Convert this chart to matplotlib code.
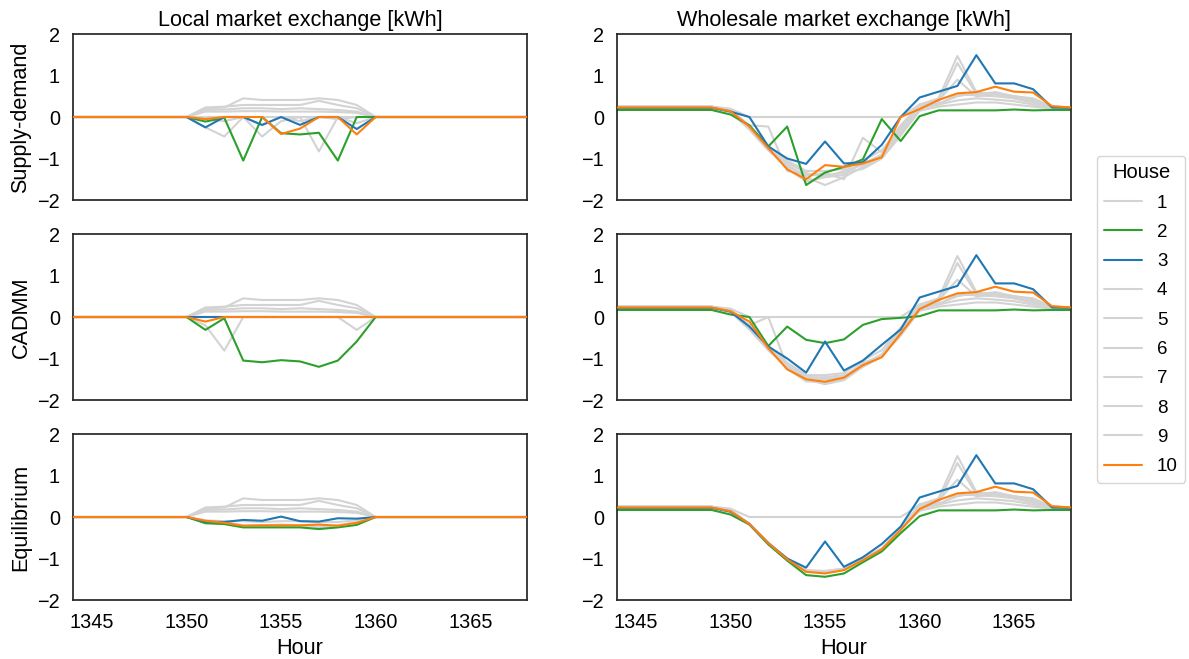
import matplotlib
matplotlib.use('Agg')
import matplotlib.pyplot as plt
import seaborn as sns
import numpy as np

## data
hours = np.arange(1344, 1369)
houses = ['1', '2', '3', '4', '5', '6', '7', '8', '9', '10']
house_colors = ['lightgray', '#2ca02c', '#1f77b4', 'lightgray', 'lightgray',
                'lightgray', 'lightgray', 'lightgray', 'lightgray', '#ff7f0e']

col_titles = ['Local market exchange [kWh]', 'Wholesale market exchange [kWh]']
row_labels = ['Supply-demand', 'CADMM', 'Equilibrium']

#local market, one row per house
local_sd = [
    [0, 0, 0, 0, 0, 0, 0, 0.21, 0.23, 0.45, 0.41, 0.41, 0.41, 0.45, 0.41, 0.29, 0, 0, 0, 0, 0, 0, 0, 0, 0],
    [0, 0, 0, 0, 0, 0, 0, -0.11, -0.02, -1.05, 0.0, -0.39, -0.42, -0.38, -1.05, 0.0, 0, 0, 0, 0, 0, 0, 0, 0, 0],
    [0, 0, 0, 0, 0, 0, 0, -0.25, 0.0, 0.0, -0.19, 0.0, -0.19, 0.0, 0.0, -0.29, 0, 0, 0, 0, 0, 0, 0, 0, 0],
    [0, 0, 0, 0, 0, 0, 0, 0.23, 0.25, 0.29, 0.29, 0.29, 0.29, 0.39, 0.29, 0.21, 0, 0, 0, 0, 0, 0, 0, 0, 0],
    [0, 0, 0, 0, 0, 0, 0, 0.17, 0.18, 0.21, 0.21, 0.19, 0.21, 0.19, 0.17, 0.13, 0, 0, 0, 0, 0, 0, 0, 0, 0],
    [0, 0, 0, 0, 0, 0, 0, 0.13, 0.13, 0.14, 0.14, 0.13, 0.13, 0.13, 0.12, 0.10, 0, 0, 0, 0, 0, 0, 0, 0, 0],
    [0, 0, 0, 0, 0, 0, 0, -0.25, -0.47, 0.0, -0.47, -0.1, 0.0, -0.83, 0.0, -0.15, 0, 0, 0, 0, 0, 0, 0, 0, 0],
    [0, 0, 0, 0, 0, 0, 0, -0.05, -0.1, 0.0, -0.2, 0.0, -0.1, 0.0, -0.05, 0.0, 0, 0, 0, 0, 0, 0, 0, 0, 0],
    [0, 0, 0, 0, 0, 0, 0, 0.0, 0.0, 0.0, 0.0, 0.0, 0.0, 0.0, 0.0, 0.0, 0, 0, 0, 0, 0, 0, 0, 0, 0],
    [0, 0, 0, 0, 0, 0, 0, -0.05, 0.0, 0.0, 0.0, -0.41, -0.28, 0.0, 0.0, -0.42, 0, 0, 0, 0, 0, 0, 0, 0, 0],
]
local_cadmm = [
    [0, 0, 0, 0, 0, 0, 0, 0.21, 0.23, 0.45, 0.41, 0.41, 0.41, 0.45, 0.41, 0.29, 0, 0, 0, 0, 0, 0, 0, 0, 0],
    [0, 0, 0, 0, 0, 0, 0, -0.31, -0.03, -1.05, -1.09, -1.04, -1.07, -1.2, -1.05, -0.59, 0, 0, 0, 0, 0, 0, 0, 0, 0],
    [0, 0, 0, 0, 0, 0, 0, 0.0, 0.0, 0.0, 0.0, 0.0, 0.0, 0.0, 0.0, 0.0, 0, 0, 0, 0, 0, 0, 0, 0, 0],
    [0, 0, 0, 0, 0, 0, 0, 0.23, 0.25, 0.29, 0.29, 0.29, 0.29, 0.39, 0.29, 0.21, 0, 0, 0, 0, 0, 0, 0, 0, 0],
    [0, 0, 0, 0, 0, 0, 0, 0.17, 0.18, 0.21, 0.21, 0.19, 0.21, 0.19, 0.17, 0.13, 0, 0, 0, 0, 0, 0, 0, 0, 0],
    [0, 0, 0, 0, 0, 0, 0, 0.13, 0.13, 0.14, 0.14, 0.13, 0.13, 0.13, 0.12, 0.10, 0, 0, 0, 0, 0, 0, 0, 0, 0],
    [0, 0, 0, 0, 0, 0, 0, -0.2, -0.81, 0.0, 0.0, 0.0, 0.0, 0.0, 0.0, -0.31, 0, 0, 0, 0, 0, 0, 0, 0, 0],
    [0, 0, 0, 0, 0, 0, 0, 0.0, 0.0, 0.0, 0.0, 0.0, 0.0, 0.0, 0.0, 0.0, 0, 0, 0, 0, 0, 0, 0, 0, 0],
    [0, 0, 0, 0, 0, 0, 0, 0.0, 0.0, 0.0, 0.0, 0.0, 0.0, 0.0, 0.0, 0.0, 0, 0, 0, 0, 0, 0, 0, 0, 0],
    [0, 0, 0, 0, 0, 0, 0, -0.11, 0.0, 0.0, 0.0, 0.0, 0.0, 0.0, 0.0, 0.0, 0, 0, 0, 0, 0, 0, 0, 0, 0],
]
local_eq = [
    [0, 0, 0, 0, 0, 0, 0, 0.21, 0.23, 0.45, 0.41, 0.41, 0.41, 0.45, 0.41, 0.29, 0, 0, 0, 0, 0, 0, 0, 0, 0],
    [0, 0, 0, 0, 0, 0, 0, -0.15, -0.17, -0.25, -0.25, -0.25, -0.25, -0.29, -0.25, -0.19, 0, 0, 0, 0, 0, 0, 0, 0, 0],
    [0, 0, 0, 0, 0, 0, 0, -0.11, -0.12, -0.07, -0.09, 0.01, -0.1, -0.11, -0.03, -0.04, 0, 0, 0, 0, 0, 0, 0, 0, 0],
    [0, 0, 0, 0, 0, 0, 0, 0.23, 0.25, 0.29, 0.29, 0.29, 0.29, 0.39, 0.29, 0.21, 0, 0, 0, 0, 0, 0, 0, 0, 0],
    [0, 0, 0, 0, 0, 0, 0, 0.17, 0.18, 0.21, 0.21, 0.19, 0.21, 0.19, 0.17, 0.13, 0, 0, 0, 0, 0, 0, 0, 0, 0],
    [0, 0, 0, 0, 0, 0, 0, 0.13, 0.13, 0.14, 0.14, 0.13, 0.13, 0.13, 0.12, 0.10, 0, 0, 0, 0, 0, 0, 0, 0, 0],
    [0, 0, 0, 0, 0, 0, 0, -0.12, -0.15, -0.22, -0.22, -0.22, -0.22, -0.24, -0.22, -0.15, 0, 0, 0, 0, 0, 0, 0, 0, 0],
    [0, 0, 0, 0, 0, 0, 0, -0.1, -0.12, -0.2, -0.2, -0.18, -0.2, -0.22, -0.2, -0.12, 0, 0, 0, 0, 0, 0, 0, 0, 0],
    [0, 0, 0, 0, 0, 0, 0, -0.08, -0.1, -0.1, -0.12, -0.1, -0.1, -0.12, -0.12, -0.08, 0, 0, 0, 0, 0, 0, 0, 0, 0],
    [0, 0, 0, 0, 0, 0, 0, -0.09, -0.14, -0.21, -0.2, -0.2, -0.2, -0.18, -0.21, -0.14, 0, 0, 0, 0, 0, 0, 0, 0, 0],
]

#wholesale market, one row per house
wholesale_sd = [
    [0.25, 0.25, 0.25, 0.25, 0.25, 0.25, 0.2, 0, 0, 0, 0, 0, 0, 0, 0, 0, 0.3, 0.45, 1.47, 0.6, 0.55, 0.45, 0.35, 0.25, 0.23],
    [0.17, 0.17, 0.17, 0.17, 0.17, 0.17, 0.06, -0.2, -0.71, -0.23, -1.64, -1.34, -1.2, -1.02, -0.05, -0.58, 0.02, 0.16, 0.16, 0.16, 0.16, 0.18, 0.16, 0.17, 0.17],
    [0.22, 0.22, 0.22, 0.22, 0.22, 0.22, 0.13, 0.0, -0.71, -1.0, -1.13, -0.59, -1.12, -1.09, -0.67, 0.0, 0.47, 0.61, 0.75, 1.49, 0.81, 0.81, 0.67, 0.23, 0.22],
    [0.25, 0.25, 0.25, 0.25, 0.25, 0.25, 0.15, -0.3, -0.8, -1.15, -1.45, -1.64, -1.45, -1.2, -0.95, -0.35, 0.25, 0.35, 1.3, 0.55, 0.6, 0.5, 0.45, 0.25, 0.24],
    [0.24, 0.24, 0.24, 0.24, 0.24, 0.24, 0.18, -0.2, -0.23, -1.3, -1.4, -1.35, -1.5, -0.5, -0.85, -0.2, 0.3, 0.3, 0.4, 0.45, 0.42, 0.38, 0.3, 0.2, 0.2],
    [0.24, 0.24, 0.24, 0.24, 0.24, 0.24, 0.12, -0.3, -0.8, -1.2, -1.4, -1.4, -1.35, -1.25, -1.0, -0.45, 0.15, 0.25, 0.3, 0.35, 0.35, 0.3, 0.25, 0.2, 0.2],
    [0.25, 0.25, 0.25, 0.25, 0.25, 0.25, 0.16, -0.25, -0.75, -1.25, -1.55, -1.45, -1.3, -1.15, -0.9, -0.3, 0.3, 0.4, 0.9, 0.5, 0.55, 0.5, 0.4, 0.25, 0.23],
    [0.24, 0.24, 0.24, 0.24, 0.24, 0.24, 0.15, -0.28, -0.78, -1.1, -1.35, -1.45, -1.4, -1.1, -0.95, -0.4, 0.2, 0.3, 0.55, 0.52, 0.5, 0.45, 0.35, 0.22, 0.22],
    [0.25, 0.25, 0.25, 0.25, 0.25, 0.25, 0.17, -0.22, -0.7, -1.05, -1.3, -1.3, -1.25, -1.05, -0.8, -0.25, 0.25, 0.32, 0.5, 0.58, 0.55, 0.5, 0.42, 0.24, 0.23],
    [0.23, 0.23, 0.23, 0.23, 0.23, 0.23, 0.14, -0.23, -0.75, -1.26, -1.5, -1.16, -1.2, -1.12, -0.97, 0.0, 0.19, 0.41, 0.57, 0.6, 0.73, 0.61, 0.59, 0.26, 0.23],
]
wholesale_cadmm = [
    [0.25, 0.25, 0.25, 0.25, 0.25, 0.25, 0.2, 0, 0, 0, 0, 0, 0, 0, 0, 0, 0.3, 0.45, 1.47, 0.6, 0.55, 0.45, 0.35, 0.25, 0.23],
    [0.17, 0.17, 0.17, 0.17, 0.17, 0.17, 0.06, 0.0, -0.7, -0.23, -0.55, -0.63, -0.54, -0.19, -0.05, -0.02, 0.02, 0.16, 0.16, 0.16, 0.16, 0.18, 0.16, 0.17, 0.17],
    [0.22, 0.22, 0.22, 0.22, 0.22, 0.22, 0.13, -0.23, -0.71, -1.0, -1.34, -0.59, -1.29, -1.05, -0.67, -0.3, 0.47, 0.61, 0.75, 1.49, 0.81, 0.81, 0.67, 0.23, 0.22],
    [0.25, 0.25, 0.25, 0.25, 0.25, 0.25, 0.15, -0.28, -0.78, -1.2, -1.5, -1.62, -1.52, -1.2, -0.95, -0.35, 0.25, 0.35, 1.3, 0.55, 0.6, 0.5, 0.45, 0.25, 0.24],
    [0.24, 0.24, 0.24, 0.24, 0.24, 0.24, 0.18, -0.2, 0.0, -1.2, -1.45, -1.5, -1.45, -1.15, -0.9, -0.3, 0.3, 0.3, 0.4, 0.45, 0.42, 0.38, 0.3, 0.2, 0.2],
    [0.24, 0.24, 0.24, 0.24, 0.24, 0.24, 0.12, -0.3, -0.8, -1.2, -1.45, -1.45, -1.4, -1.2, -0.95, -0.45, 0.15, 0.25, 0.3, 0.35, 0.35, 0.3, 0.25, 0.2, 0.2],
    [0.25, 0.25, 0.25, 0.25, 0.25, 0.25, 0.16, -0.25, -0.75, -1.25, -1.55, -1.58, -1.5, -1.15, -0.9, -0.3, 0.3, 0.4, 0.9, 0.5, 0.55, 0.5, 0.4, 0.25, 0.23],
    [0.24, 0.24, 0.24, 0.24, 0.24, 0.24, 0.15, -0.28, -0.78, -1.15, -1.45, -1.5, -1.45, -1.1, -0.95, -0.4, 0.2, 0.3, 0.55, 0.52, 0.5, 0.45, 0.35, 0.22, 0.22],
    [0.25, 0.25, 0.25, 0.25, 0.25, 0.25, 0.17, -0.22, -0.7, -1.1, -1.4, -1.4, -1.35, -1.05, -0.8, -0.25, 0.25, 0.32, 0.5, 0.58, 0.55, 0.5, 0.42, 0.24, 0.23],
    [0.23, 0.23, 0.23, 0.23, 0.23, 0.23, 0.14, -0.11, -0.75, -1.26, -1.5, -1.56, -1.46, -1.16, -0.97, -0.4, 0.19, 0.41, 0.57, 0.6, 0.73, 0.61, 0.59, 0.26, 0.23],
]
wholesale_eq = [
    [0.25, 0.25, 0.25, 0.25, 0.25, 0.25, 0.2, 0, 0, 0, 0, 0, 0, 0, 0, 0, 0.3, 0.45, 1.47, 0.6, 0.55, 0.45, 0.35, 0.25, 0.23],
    [0.17, 0.17, 0.17, 0.17, 0.17, 0.17, 0.06, -0.18, -0.66, -1.05, -1.4, -1.44, -1.36, -1.09, -0.83, -0.39, 0.02, 0.16, 0.16, 0.16, 0.16, 0.18, 0.16, 0.17, 0.17],
    [0.22, 0.22, 0.22, 0.22, 0.22, 0.22, 0.13, -0.17, -0.63, -1.0, -1.22, -0.59, -1.2, -0.97, -0.65, -0.23, 0.47, 0.61, 0.75, 1.49, 0.81, 0.81, 0.67, 0.23, 0.22],
    [0.25, 0.25, 0.25, 0.25, 0.25, 0.25, 0.15, -0.17, -0.63, -1.02, -1.3, -1.32, -1.26, -1.02, -0.76, -0.3, 0.25, 0.35, 1.3, 0.55, 0.6, 0.5, 0.45, 0.25, 0.24],
    [0.24, 0.24, 0.24, 0.24, 0.24, 0.24, 0.18, -0.16, -0.62, -1.0, -1.28, -1.3, -1.24, -1.0, -0.75, -0.28, 0.3, 0.3, 0.4, 0.45, 0.42, 0.38, 0.3, 0.2, 0.2],
    [0.24, 0.24, 0.24, 0.24, 0.24, 0.24, 0.12, -0.17, -0.63, -1.02, -1.3, -1.32, -1.27, -1.03, -0.78, -0.3, 0.15, 0.25, 0.3, 0.35, 0.35, 0.3, 0.25, 0.2, 0.2],
    [0.25, 0.25, 0.25, 0.25, 0.25, 0.25, 0.16, -0.17, -0.63, -1.02, -1.31, -1.34, -1.27, -1.03, -0.77, -0.3, 0.3, 0.4, 0.9, 0.5, 0.55, 0.5, 0.4, 0.25, 0.23],
    [0.24, 0.24, 0.24, 0.24, 0.24, 0.24, 0.15, -0.17, -0.63, -1.01, -1.29, -1.31, -1.25, -1.01, -0.76, -0.29, 0.2, 0.3, 0.55, 0.52, 0.5, 0.45, 0.35, 0.22, 0.22],
    [0.25, 0.25, 0.25, 0.25, 0.25, 0.25, 0.17, -0.17, -0.63, -1.02, -1.3, -1.33, -1.26, -1.02, -0.77, -0.3, 0.25, 0.32, 0.5, 0.58, 0.55, 0.5, 0.42, 0.24, 0.23],
    [0.23, 0.23, 0.23, 0.23, 0.23, 0.23, 0.14, -0.17, -0.63, -1.02, -1.32, -1.36, -1.28, -1.04, -0.78, -0.31, 0.19, 0.41, 0.57, 0.6, 0.73, 0.61, 0.59, 0.26, 0.23],
]

panels = [[local_sd, wholesale_sd],
          [local_cadmm, wholesale_cadmm],
          [local_eq, wholesale_eq]]

## plot
sns.set_theme(style='white', font_scale=1.3)
plt.rcParams['font.family'] = ['Liberation Sans', 'DejaVu Sans']
plt.rcParams.update({'text.color': 'black', 'axes.labelcolor': 'black',
                     'xtick.color': 'black', 'ytick.color': 'black'})

fig = plt.figure(figsize=(11.89, 6.59), dpi=100)
col_left = [0.0614, 0.5189]
row_bottom = [0.6965, 0.3930, 0.0895]
axes = [[fig.add_axes([col_left[c], row_bottom[r], 0.3818, 0.2519]) for c in range(2)]
        for r in range(3)]

for r in range(3):
    for c in range(2):
        ax = axes[r][c]
        data = panels[r][c]
        for i, name in enumerate(houses):
            z = 1 if house_colors[i] == 'lightgray' else 2 + i / 10
            ax.plot(hours, data[i], color=house_colors[i], lw=1.5, label=name, zorder=z)
        ax.set_xlim(1344, 1368)
        ax.set_ylim(-2, 2)
        ax.set_yticks([-2, -1, 0, 1, 2])
        ax.set_xticks([1345, 1350, 1355, 1360, 1365])
        if r < 2:
            ax.set_xticklabels([])
        else:
            ax.set_xlabel('Hour')
        if r == 0:
            ax.set_title(col_titles[c])
        if c == 0:
            ax.set_ylabel(row_labels[r])

handles, labels = axes[0][0].get_legend_handles_labels()
fig.legend(handles, labels, title='House', loc='center left',
           bbox_to_anchor=(0.9226, 0.5155), borderaxespad=0,
           fontsize=13.5, title_fontsize=14.5, handlelength=2.0,
           labelspacing=0.65)

fig.savefig('out.png', dpi=100)
